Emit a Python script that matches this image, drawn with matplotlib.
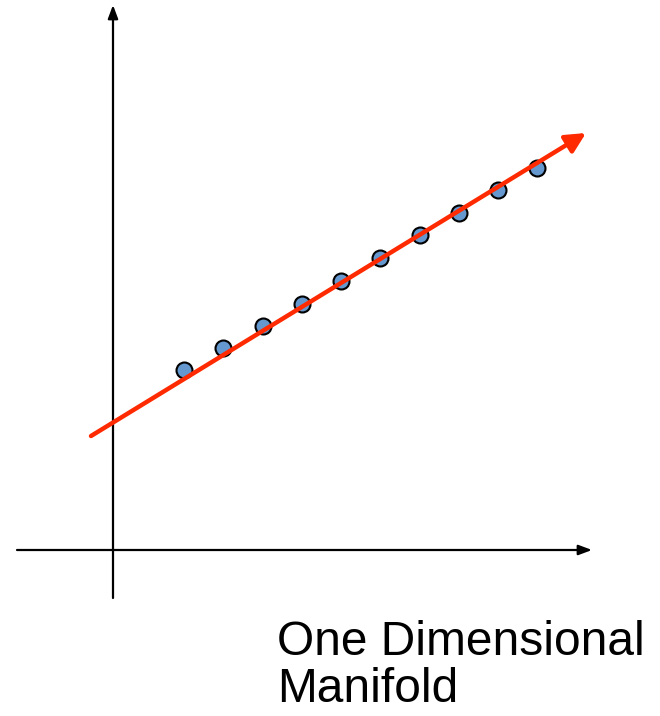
import matplotlib.pyplot as plt

# sample points lying near a line (x right, y up, origin at axes crossing)
pts_x = [7.1, 11.0, 15.0, 18.9, 22.8, 26.7, 30.7, 34.6, 38.5, 42.4]
pts_y = [18.0, 20.2, 22.4, 24.6, 26.9, 29.2, 31.5, 33.7, 36.0, 38.2]

# fitted manifold (arrow start / end)
line_x = [-2.2, 47.3]
line_y = [11.4, 41.7]

label_lines = ['One Dimensional', 'Manifold']

fig = plt.figure(figsize=(6.6, 7.16), dpi=100)
ax = fig.add_axes([0, 0, 1, 1])
ax.set_xlim(-11.3, 54.7)
ax.set_ylim(-16.6, 55.0)
ax.axis('off')

# coordinate axes
ax.annotate('', xy=(47.9, 0), xytext=(-9.6, 0),
            arrowprops=dict(arrowstyle='-|>,head_length=0.8,head_width=0.3',
                            color='black', lw=1.6, shrinkA=0, shrinkB=0))
ax.annotate('', xy=(0, 54.5), xytext=(0, -4.8),
            arrowprops=dict(arrowstyle='-|>,head_length=0.8,head_width=0.3',
                            color='black', lw=1.6, shrinkA=0, shrinkB=0))

ax.plot(pts_x, pts_y, 'o', ms=11.5, mfc='#6598CE', mec='black', mew=1.5, zorder=3)

ax.annotate('', xy=(line_x[1], line_y[1]), xytext=(line_x[0], line_y[0]),
            arrowprops=dict(arrowstyle='-|>,head_length=1.2,head_width=0.6',
                            color='#FF2A00', lw=3.2, shrinkA=0, shrinkB=0),
            zorder=4)

ax.text(16.4, -10.5, label_lines[0], fontsize=34.5, family='Liberation Sans', va='baseline')
ax.text(16.4, -15.2, label_lines[1], fontsize=34.5, family='Liberation Sans', va='baseline')

fig.savefig('out.png', dpi=100)
